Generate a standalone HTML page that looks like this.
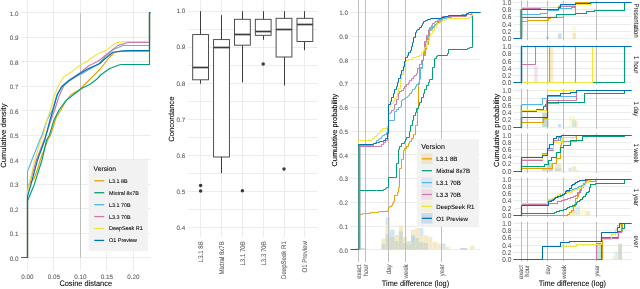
<!DOCTYPE html>
<html><head><meta charset="utf-8"><style>
html,body{margin:0;padding:0;background:#fff;}
svg{display:block;font-family:"Liberation Sans", sans-serif;will-change:transform;}
svg text{text-rendering:geometricPrecision;}
</style></head><body>
<svg width="640" height="289" viewBox="0 0 640 289">
<rect width="640" height="289" fill="#fff"/>
<line x1="21.3" y1="257.5" x2="150.6" y2="257.5" stroke="#ECECEC" stroke-width="1" />
<line x1="21.3" y1="233.5" x2="150.6" y2="233.5" stroke="#ECECEC" stroke-width="1" />
<line x1="21.3" y1="208.5" x2="150.6" y2="208.5" stroke="#ECECEC" stroke-width="1" />
<line x1="21.3" y1="184.5" x2="150.6" y2="184.5" stroke="#ECECEC" stroke-width="1" />
<line x1="21.3" y1="159.5" x2="150.6" y2="159.5" stroke="#ECECEC" stroke-width="1" />
<line x1="21.3" y1="135.5" x2="150.6" y2="135.5" stroke="#ECECEC" stroke-width="1" />
<line x1="21.3" y1="110.5" x2="150.6" y2="110.5" stroke="#ECECEC" stroke-width="1" />
<line x1="21.3" y1="86.5" x2="150.6" y2="86.5" stroke="#ECECEC" stroke-width="1" />
<line x1="21.3" y1="61.5" x2="150.6" y2="61.5" stroke="#ECECEC" stroke-width="1" />
<line x1="21.3" y1="37.5" x2="150.6" y2="37.5" stroke="#ECECEC" stroke-width="1" />
<line x1="21.3" y1="12.5" x2="150.6" y2="12.5" stroke="#ECECEC" stroke-width="1" />
<line x1="27.5" y1="0.5" x2="27.5" y2="270" stroke="#ECECEC" stroke-width="1" />
<line x1="53.5" y1="0.5" x2="53.5" y2="270" stroke="#ECECEC" stroke-width="1" />
<line x1="80.5" y1="0.5" x2="80.5" y2="270" stroke="#ECECEC" stroke-width="1" />
<line x1="106.5" y1="0.5" x2="106.5" y2="270" stroke="#ECECEC" stroke-width="1" />
<line x1="133.5" y1="0.5" x2="133.5" y2="270" stroke="#ECECEC" stroke-width="1" />
<line x1="80.5" y1="12.7" x2="80.5" y2="257.7" stroke="#BEBEBE" stroke-width="1" />
<text x="18.6" y="260.6" font-size="6.3" fill="#5A5A5A" stroke="#5A5A5A" stroke-width="0.07" text-anchor="end" >0.0</text>
<text x="18.6" y="236.1" font-size="6.3" fill="#5A5A5A" stroke="#5A5A5A" stroke-width="0.07" text-anchor="end" >0.1</text>
<text x="18.6" y="211.6" font-size="6.3" fill="#5A5A5A" stroke="#5A5A5A" stroke-width="0.07" text-anchor="end" >0.2</text>
<text x="18.6" y="187.1" font-size="6.3" fill="#5A5A5A" stroke="#5A5A5A" stroke-width="0.07" text-anchor="end" >0.3</text>
<text x="18.6" y="162.6" font-size="6.3" fill="#5A5A5A" stroke="#5A5A5A" stroke-width="0.07" text-anchor="end" >0.4</text>
<text x="18.6" y="138.1" font-size="6.3" fill="#5A5A5A" stroke="#5A5A5A" stroke-width="0.07" text-anchor="end" >0.5</text>
<text x="18.6" y="113.6" font-size="6.3" fill="#5A5A5A" stroke="#5A5A5A" stroke-width="0.07" text-anchor="end" >0.6</text>
<text x="18.6" y="89.1" font-size="6.3" fill="#5A5A5A" stroke="#5A5A5A" stroke-width="0.07" text-anchor="end" >0.7</text>
<text x="18.6" y="64.6" font-size="6.3" fill="#5A5A5A" stroke="#5A5A5A" stroke-width="0.07" text-anchor="end" >0.8</text>
<text x="18.6" y="40.1" font-size="6.3" fill="#5A5A5A" stroke="#5A5A5A" stroke-width="0.07" text-anchor="end" >0.9</text>
<text x="18.6" y="15.6" font-size="6.3" fill="#5A5A5A" stroke="#5A5A5A" stroke-width="0.07" text-anchor="end" >1.0</text>
<text x="27.4" y="278.5" font-size="6.3" fill="#5A5A5A" stroke="#5A5A5A" stroke-width="0.07" text-anchor="middle" >0.00</text>
<text x="53.9" y="278.5" font-size="6.3" fill="#5A5A5A" stroke="#5A5A5A" stroke-width="0.07" text-anchor="middle" >0.05</text>
<text x="80.4" y="278.5" font-size="6.3" fill="#5A5A5A" stroke="#5A5A5A" stroke-width="0.07" text-anchor="middle" >0.10</text>
<text x="106.9" y="278.5" font-size="6.3" fill="#5A5A5A" stroke="#5A5A5A" stroke-width="0.07" text-anchor="middle" >0.15</text>
<text x="133.4" y="278.5" font-size="6.3" fill="#5A5A5A" stroke="#5A5A5A" stroke-width="0.07" text-anchor="middle" >0.20</text>
<text x="85.7" y="286" font-size="8.0" fill="#000" stroke="#000" stroke-width="0.07" text-anchor="middle" textLength="52.6" lengthAdjust="spacingAndGlyphs">Cosine distance</text>
<text x="6.5" y="135.6" font-size="7.6" fill="#000" stroke="#000" stroke-width="0.07" text-anchor="middle" transform="rotate(-90 6.5 135.6)" >Cumulative density</text>
<polyline points="21.3,257.5 27.5,257.5 27.5,188.5 28.5,185 34.2,178.3 37.5,169.3 40.2,160 47.7,140 50.5,135.2 56,118 60.8,110 66,100.6 71.1,94.6 79.8,89.4 86.7,82.5 93.6,75.6 100.3,69 109.3,57.5 114.5,52.3 120,51.5 149.5,51.5 149.5,12.5 150.6,12.5" fill="none" stroke="#E69F00" stroke-width="1.15" stroke-linejoin="round" />
<polyline points="21.3,257.5 27.5,257.5 27.5,201 34.2,184.7 42,160 46.6,140 49.4,135.2 54,120 59,110 66,100.6 74.6,93.7 81.5,88.5 90.1,84.2 97,79 100.6,75 109.3,68.7 119.7,64.7 122,64.5 149.5,64.5 149.5,12.5 150.6,12.5" fill="none" stroke="#009E73" stroke-width="1.15" stroke-linejoin="round" />
<polyline points="21.3,257.5 27.5,257.5 27.5,171.6 31.9,160 39.8,140 42,135.2 47,120 52.5,110 57,95 61.6,87.5 68.5,81.5 78,75.5 83.2,73 91.9,67.8 98,64.5 105,57 112.8,49.7 123,45.5 149.5,45.5 149.5,12.5 150.6,12.5" fill="none" stroke="#56B4E9" stroke-width="1.15" stroke-linejoin="round" />
<polyline points="21.3,257.5 27.5,257.5 27.5,190 32,175 36.4,160 46,135.2 51,120 54.7,110 59,96.3 64.2,85.1 71.1,79 79.8,73 88.4,66 97,61.7 100.6,59.2 109.3,52.3 118,45.4 128.3,42.5 149.5,42.5 149.5,12.5 150.6,12.5" fill="none" stroke="#CC79A7" stroke-width="1.15" stroke-linejoin="round" />
<polyline points="21.3,257.5 27.5,257.5 27.5,191.9 29,185 34.8,160 40.9,140 43.3,135.2 47,120 50.4,110 54.7,94.6 59,84.2 64.2,76.4 71.1,72.1 79.8,65.2 86.7,61.7 92,57.5 98.9,53.2 105.8,50.6 116.2,42.8 126.6,41.5 149.5,41.5 149.5,12.5 150.6,12.5" fill="none" stroke="#F0E442" stroke-width="1.15" stroke-linejoin="round" />
<polyline points="21.3,257.5 27.5,257.5 27.5,196.4 30.8,185 37.5,160 44.8,140 46,135.2 50,120 53,110 57.3,94.6 61.6,86.8 68.5,80.8 78,74.7 88.4,68.6 100,63.5 102.4,61 112.8,52.3 123,50.9 131.8,50.5 149.5,50.5 149.5,12.5 150.6,12.5" fill="none" stroke="#0072B2" stroke-width="1.15" stroke-linejoin="round" />
<rect x="88.6" y="160" width="59.4" height="91" fill="#F2F2F2" />
<text x="93.6" y="170.6" font-size="6.7" fill="#000" stroke="#000" stroke-width="0.07" text-anchor="start" >Version</text>
<line x1="94.3" y1="180.8" x2="104.2" y2="180.8" stroke="#E69F00" stroke-width="1.3" />
<text x="109.1" y="182.75" font-size="5.4" fill="#000" stroke="#000" stroke-width="0.07" text-anchor="start" >L3.1 8B</text>
<line x1="94.3" y1="192.73" x2="104.2" y2="192.73" stroke="#009E73" stroke-width="1.3" />
<text x="109.1" y="194.68" font-size="5.4" fill="#000" stroke="#000" stroke-width="0.07" text-anchor="start" >Mixtral 8x7B</text>
<line x1="94.3" y1="204.66" x2="104.2" y2="204.66" stroke="#56B4E9" stroke-width="1.3" />
<text x="109.1" y="206.61" font-size="5.4" fill="#000" stroke="#000" stroke-width="0.07" text-anchor="start" >L3.1 70B</text>
<line x1="94.3" y1="216.59" x2="104.2" y2="216.59" stroke="#CC79A7" stroke-width="1.3" />
<text x="109.1" y="218.54" font-size="5.4" fill="#000" stroke="#000" stroke-width="0.07" text-anchor="start" >L3.3 70B</text>
<line x1="94.3" y1="228.52" x2="104.2" y2="228.52" stroke="#F0E442" stroke-width="1.3" />
<text x="109.1" y="230.47" font-size="5.4" fill="#000" stroke="#000" stroke-width="0.07" text-anchor="start" >DeepSeek R1</text>
<line x1="94.3" y1="240.45" x2="104.2" y2="240.45" stroke="#0072B2" stroke-width="1.3" />
<text x="109.1" y="242.4" font-size="5.4" fill="#000" stroke="#000" stroke-width="0.07" text-anchor="start" >O1 Preview</text>
<line x1="187.9" y1="227.5" x2="317.6" y2="227.5" stroke="#ECECEC" stroke-width="1" />
<line x1="187.9" y1="209.5" x2="317.6" y2="209.5" stroke="#ECECEC" stroke-width="1" />
<line x1="187.9" y1="191.5" x2="317.6" y2="191.5" stroke="#ECECEC" stroke-width="1" />
<line x1="187.9" y1="173.5" x2="317.6" y2="173.5" stroke="#ECECEC" stroke-width="1" />
<line x1="187.9" y1="155.5" x2="317.6" y2="155.5" stroke="#ECECEC" stroke-width="1" />
<line x1="187.9" y1="137.5" x2="317.6" y2="137.5" stroke="#ECECEC" stroke-width="1" />
<line x1="187.9" y1="119.5" x2="317.6" y2="119.5" stroke="#ECECEC" stroke-width="1" />
<line x1="187.9" y1="101.5" x2="317.6" y2="101.5" stroke="#ECECEC" stroke-width="1" />
<line x1="187.9" y1="83.5" x2="317.6" y2="83.5" stroke="#ECECEC" stroke-width="1" />
<line x1="187.9" y1="65.5" x2="317.6" y2="65.5" stroke="#ECECEC" stroke-width="1" />
<line x1="187.9" y1="47.5" x2="317.6" y2="47.5" stroke="#ECECEC" stroke-width="1" />
<line x1="187.9" y1="29.5" x2="317.6" y2="29.5" stroke="#ECECEC" stroke-width="1" />
<line x1="187.9" y1="11.5" x2="317.6" y2="11.5" stroke="#ECECEC" stroke-width="1" />
<line x1="200.5" y1="0.5" x2="200.5" y2="237.2" stroke="#ECECEC" stroke-width="1" />
<line x1="221.5" y1="0.5" x2="221.5" y2="237.2" stroke="#ECECEC" stroke-width="1" />
<line x1="242.5" y1="0.5" x2="242.5" y2="237.2" stroke="#ECECEC" stroke-width="1" />
<line x1="263.5" y1="0.5" x2="263.5" y2="237.2" stroke="#ECECEC" stroke-width="1" />
<line x1="284.5" y1="0.5" x2="284.5" y2="237.2" stroke="#ECECEC" stroke-width="1" />
<line x1="304.5" y1="0.5" x2="304.5" y2="237.2" stroke="#ECECEC" stroke-width="1" />
<text x="185.2" y="229.7" font-size="6.3" fill="#5A5A5A" stroke="#5A5A5A" stroke-width="0.07" text-anchor="end" >0.4</text>
<text x="185.2" y="193.65" font-size="6.3" fill="#5A5A5A" stroke="#5A5A5A" stroke-width="0.07" text-anchor="end" >0.5</text>
<text x="185.2" y="157.6" font-size="6.3" fill="#5A5A5A" stroke="#5A5A5A" stroke-width="0.07" text-anchor="end" >0.6</text>
<text x="185.2" y="121.55" font-size="6.3" fill="#5A5A5A" stroke="#5A5A5A" stroke-width="0.07" text-anchor="end" >0.7</text>
<text x="185.2" y="85.5" font-size="6.3" fill="#5A5A5A" stroke="#5A5A5A" stroke-width="0.07" text-anchor="end" >0.8</text>
<text x="185.2" y="49.45" font-size="6.3" fill="#5A5A5A" stroke="#5A5A5A" stroke-width="0.07" text-anchor="end" >0.9</text>
<text x="185.2" y="13.4" font-size="6.3" fill="#5A5A5A" stroke="#5A5A5A" stroke-width="0.07" text-anchor="end" >1.0</text>
<text x="173.6" y="119.2" font-size="7.6" fill="#000" stroke="#000" stroke-width="0.07" text-anchor="middle" transform="rotate(-90 173.6 119.2)" >Concordance</text>
<text x="0" y="0" font-size="6.8" fill="#5A5A5A" stroke="#5A5A5A" stroke-width="0.07" text-anchor="end" transform="translate(202.9 241.2) rotate(-90) scale(0.8929 1)" >L3.1 8B</text>
<text x="0" y="0" font-size="6.8" fill="#5A5A5A" stroke="#5A5A5A" stroke-width="0.07" text-anchor="end" transform="translate(223.8 241.2) rotate(-90) scale(0.8929 1)" >Mixtral 8x7B</text>
<text x="0" y="0" font-size="6.8" fill="#5A5A5A" stroke="#5A5A5A" stroke-width="0.07" text-anchor="end" transform="translate(244.7 241.2) rotate(-90) scale(0.8929 1)" >L3.1 70B</text>
<text x="0" y="0" font-size="6.8" fill="#5A5A5A" stroke="#5A5A5A" stroke-width="0.07" text-anchor="end" transform="translate(265.5 241.2) rotate(-90) scale(0.8929 1)" >L3.3 70B</text>
<text x="0" y="0" font-size="6.8" fill="#5A5A5A" stroke="#5A5A5A" stroke-width="0.07" text-anchor="end" transform="translate(286.3 241.2) rotate(-90) scale(0.8929 1)" >DeepSeek R1</text>
<text x="0" y="0" font-size="6.8" fill="#5A5A5A" stroke="#5A5A5A" stroke-width="0.07" text-anchor="end" transform="translate(307.2 241.2) rotate(-90) scale(0.8929 1)" >O1 Preview</text>
<line x1="200.5" y1="11.2" x2="200.5" y2="34.6" stroke="#3C3C3C" stroke-width="1" />
<line x1="200.5" y1="79.8" x2="200.5" y2="83.7" stroke="#3C3C3C" stroke-width="1" />
<rect x="192.7" y="34.6" width="15.8" height="45.2" fill="#fff" stroke="#3C3C3C" stroke-width="0.9"/>
<line x1="192.7" y1="67.5" x2="208.5" y2="67.5" stroke="#3C3C3C" stroke-width="1.7" />
<circle cx="200.6" cy="185.5" r="1.75" fill="#3A3A3A"/>
<circle cx="200.6" cy="191" r="1.75" fill="#3A3A3A"/>
<line x1="221.5" y1="15.2" x2="221.5" y2="39.6" stroke="#3C3C3C" stroke-width="1" />
<line x1="221.5" y1="157" x2="221.5" y2="173.2" stroke="#3C3C3C" stroke-width="1" />
<rect x="213.6" y="39.6" width="15.8" height="117.4" fill="#fff" stroke="#3C3C3C" stroke-width="0.9"/>
<line x1="213.6" y1="47.5" x2="229.4" y2="47.5" stroke="#3C3C3C" stroke-width="1.7" />
<line x1="242.5" y1="11.2" x2="242.5" y2="19.3" stroke="#3C3C3C" stroke-width="1" />
<line x1="242.5" y1="45.2" x2="242.5" y2="82.4" stroke="#3C3C3C" stroke-width="1" />
<rect x="234.5" y="19.3" width="15.8" height="25.9" fill="#fff" stroke="#3C3C3C" stroke-width="0.9"/>
<line x1="234.5" y1="34.5" x2="250.3" y2="34.5" stroke="#3C3C3C" stroke-width="1.7" />
<circle cx="242.4" cy="190.8" r="1.75" fill="#3A3A3A"/>
<line x1="263.5" y1="11.2" x2="263.5" y2="19.3" stroke="#3C3C3C" stroke-width="1" />
<line x1="263.5" y1="35.3" x2="263.5" y2="39.8" stroke="#3C3C3C" stroke-width="1" />
<rect x="255.3" y="19.3" width="15.8" height="16" fill="#fff" stroke="#3C3C3C" stroke-width="0.9"/>
<line x1="255.3" y1="31.5" x2="271.1" y2="31.5" stroke="#3C3C3C" stroke-width="1.7" />
<circle cx="263.2" cy="63.9" r="1.75" fill="#3A3A3A"/>
<line x1="284.5" y1="11.2" x2="284.5" y2="18.3" stroke="#3C3C3C" stroke-width="1" />
<line x1="284.5" y1="57" x2="284.5" y2="85.5" stroke="#3C3C3C" stroke-width="1" />
<rect x="276.1" y="18.3" width="15.8" height="38.7" fill="#fff" stroke="#3C3C3C" stroke-width="0.9"/>
<line x1="276.1" y1="29.5" x2="291.9" y2="29.5" stroke="#3C3C3C" stroke-width="1.7" />
<circle cx="284" cy="169" r="1.75" fill="#3A3A3A"/>
<line x1="304.5" y1="11.2" x2="304.5" y2="18.3" stroke="#3C3C3C" stroke-width="1" />
<line x1="304.5" y1="41.5" x2="304.5" y2="50.2" stroke="#3C3C3C" stroke-width="1" />
<rect x="297" y="18.3" width="15.8" height="23.2" fill="#fff" stroke="#3C3C3C" stroke-width="0.9"/>
<line x1="297" y1="24.5" x2="312.8" y2="24.5" stroke="#3C3C3C" stroke-width="1.7" />
<line x1="350.9" y1="249.5" x2="480.3" y2="249.5" stroke="#ECECEC" stroke-width="1" />
<line x1="350.9" y1="226.5" x2="480.3" y2="226.5" stroke="#ECECEC" stroke-width="1" />
<line x1="350.9" y1="202.5" x2="480.3" y2="202.5" stroke="#ECECEC" stroke-width="1" />
<line x1="350.9" y1="178.5" x2="480.3" y2="178.5" stroke="#ECECEC" stroke-width="1" />
<line x1="350.9" y1="154.5" x2="480.3" y2="154.5" stroke="#ECECEC" stroke-width="1" />
<line x1="350.9" y1="131.5" x2="480.3" y2="131.5" stroke="#ECECEC" stroke-width="1" />
<line x1="350.9" y1="107.5" x2="480.3" y2="107.5" stroke="#ECECEC" stroke-width="1" />
<line x1="350.9" y1="83.5" x2="480.3" y2="83.5" stroke="#ECECEC" stroke-width="1" />
<line x1="350.9" y1="59.5" x2="480.3" y2="59.5" stroke="#ECECEC" stroke-width="1" />
<line x1="350.9" y1="36.5" x2="480.3" y2="36.5" stroke="#ECECEC" stroke-width="1" />
<line x1="350.9" y1="12.5" x2="480.3" y2="12.5" stroke="#ECECEC" stroke-width="1" />
<rect x="355" y="247.8" width="3" height="1.93" fill="#F4EACB" />
<rect x="360.5" y="248.3" width="5.5" height="1.43" fill="#C6D5DC" />
<rect x="381.6" y="238.6" width="4.1" height="11.13" fill="#F4EACB" />
<rect x="381.6" y="244" width="4.1" height="5.73" fill="#D6DBC9" />
<rect x="385.7" y="217.3" width="4.1" height="32.43" fill="#D3E6F1" />
<rect x="385.7" y="224.7" width="4.1" height="25.03" fill="#F4EACB" />
<rect x="385.7" y="234.5" width="4.1" height="15.23" fill="#D6DBC9" />
<rect x="389.8" y="229.6" width="4.9" height="20.13" fill="#D3E6F1" />
<rect x="389.8" y="237" width="4.9" height="12.73" fill="#D6DBC9" />
<rect x="394.7" y="235" width="4.1" height="14.73" fill="#F4EACB" />
<rect x="394.7" y="241" width="4.1" height="8.73" fill="#D6DBC9" />
<rect x="398.8" y="225.5" width="4.1" height="24.23" fill="#F4EACB" />
<rect x="398.8" y="231.3" width="4.1" height="18.43" fill="#D6DBC9" />
<rect x="402.9" y="237" width="4.1" height="12.73" fill="#F4EACB" />
<rect x="402.9" y="243" width="4.1" height="6.73" fill="#D6DBC9" />
<rect x="407" y="241.1" width="4.1" height="8.63" fill="#D3E6F1" />
<rect x="407" y="244.5" width="4.1" height="5.23" fill="#D6DBC9" />
<rect x="411.1" y="229.6" width="4.1" height="20.13" fill="#F4EACB" />
<rect x="411.1" y="235.4" width="4.1" height="14.33" fill="#C6D5DC" />
<rect x="411.1" y="242" width="4.1" height="7.73" fill="#D6DBC9" />
<rect x="415.2" y="228" width="4.1" height="21.73" fill="#F4EACB" />
<rect x="415.2" y="238" width="4.1" height="11.73" fill="#D6DBC9" />
<rect x="419.3" y="228" width="4.1" height="21.73" fill="#D3E6F1" />
<rect x="419.3" y="236" width="4.1" height="13.73" fill="#F4EACB" />
<rect x="419.3" y="242" width="4.1" height="7.73" fill="#D6DBC9" />
<rect x="423.4" y="235.4" width="4.9" height="14.33" fill="#F4EACB" />
<rect x="423.4" y="243" width="4.9" height="6.73" fill="#D6DBC9" />
<rect x="428.3" y="237" width="4.1" height="12.73" fill="#F4EACB" />
<rect x="432.4" y="241.9" width="4.9" height="7.83" fill="#F4EACB" />
<rect x="437.3" y="243.5" width="4.1" height="6.23" fill="#F4EACB" />
<rect x="441.4" y="243.5" width="4.1" height="6.23" fill="#D3E6F1" />
<rect x="445.5" y="246.8" width="4.1" height="2.93" fill="#F4EACB" />
<rect x="460.3" y="248" width="6.6" height="1.73" fill="#C6D5DC" />
<rect x="470.2" y="245.7" width="4.1" height="4.03" fill="#F4EACB" />
<line x1="358.5" y1="0" x2="358.5" y2="262" stroke="#BEBEBE" stroke-width="1" />
<text x="0" y="0" font-size="6.6" fill="#5A5A5A" stroke="#5A5A5A" stroke-width="0.07" text-anchor="end" transform="translate(361.1 264.5) rotate(-90) scale(0.9091 1)" >exact</text>
<line x1="365.5" y1="0" x2="365.5" y2="262" stroke="#BEBEBE" stroke-width="1" />
<text x="0" y="0" font-size="6.6" fill="#5A5A5A" stroke="#5A5A5A" stroke-width="0.07" text-anchor="end" transform="translate(367.9 264.5) rotate(-90) scale(0.9091 1)" >hour</text>
<line x1="388.5" y1="0" x2="388.5" y2="262" stroke="#BEBEBE" stroke-width="1" />
<text x="0" y="0" font-size="6.6" fill="#5A5A5A" stroke="#5A5A5A" stroke-width="0.07" text-anchor="end" transform="translate(390.8 264.5) rotate(-90) scale(0.9091 1)" >day</text>
<line x1="405.5" y1="0" x2="405.5" y2="262" stroke="#BEBEBE" stroke-width="1" />
<text x="0" y="0" font-size="6.6" fill="#5A5A5A" stroke="#5A5A5A" stroke-width="0.07" text-anchor="end" transform="translate(407.7 264.5) rotate(-90) scale(0.9091 1)" >week</text>
<line x1="441.5" y1="0" x2="441.5" y2="262" stroke="#BEBEBE" stroke-width="1" />
<text x="0" y="0" font-size="6.6" fill="#5A5A5A" stroke="#5A5A5A" stroke-width="0.07" text-anchor="end" transform="translate(443.7 264.5) rotate(-90) scale(0.9091 1)" >year</text>
<text x="348" y="252.53" font-size="6.3" fill="#5A5A5A" stroke="#5A5A5A" stroke-width="0.07" text-anchor="end" >0.0</text>
<text x="348" y="228.81" font-size="6.3" fill="#5A5A5A" stroke="#5A5A5A" stroke-width="0.07" text-anchor="end" >0.1</text>
<text x="348" y="205.08" font-size="6.3" fill="#5A5A5A" stroke="#5A5A5A" stroke-width="0.07" text-anchor="end" >0.2</text>
<text x="348" y="181.36" font-size="6.3" fill="#5A5A5A" stroke="#5A5A5A" stroke-width="0.07" text-anchor="end" >0.3</text>
<text x="348" y="157.64" font-size="6.3" fill="#5A5A5A" stroke="#5A5A5A" stroke-width="0.07" text-anchor="end" >0.4</text>
<text x="348" y="133.92" font-size="6.3" fill="#5A5A5A" stroke="#5A5A5A" stroke-width="0.07" text-anchor="end" >0.5</text>
<text x="348" y="110.19" font-size="6.3" fill="#5A5A5A" stroke="#5A5A5A" stroke-width="0.07" text-anchor="end" >0.6</text>
<text x="348" y="86.47" font-size="6.3" fill="#5A5A5A" stroke="#5A5A5A" stroke-width="0.07" text-anchor="end" >0.7</text>
<text x="348" y="62.75" font-size="6.3" fill="#5A5A5A" stroke="#5A5A5A" stroke-width="0.07" text-anchor="end" >0.8</text>
<text x="348" y="39.02" font-size="6.3" fill="#5A5A5A" stroke="#5A5A5A" stroke-width="0.07" text-anchor="end" >0.9</text>
<text x="348" y="15.3" font-size="6.3" fill="#5A5A5A" stroke="#5A5A5A" stroke-width="0.07" text-anchor="end" >1.0</text>
<text x="415.5" y="285.8" font-size="8.0" fill="#000" stroke="#000" stroke-width="0.07" text-anchor="middle" textLength="67.4" lengthAdjust="spacingAndGlyphs">Time difference (log)</text>
<text x="336.6" y="130.2" font-size="7.4" fill="#000" stroke="#000" stroke-width="0.07" text-anchor="middle" transform="rotate(-90 336.6 130.2)" >Cumulative probability</text>
<polyline points="350.5,249.5 358.5,249.5 358.5,249.5 358.5,249.5 358.5,214.5 360.5,214.5 360.5,214.5 362.5,214.5 362.5,213.5 363.5,213.5 363.5,213.5 365.5,213.5 365.5,213.5 366.5,213.5 366.5,213.5 368.5,213.5 368.5,213.5 370.5,213.5 370.5,212.5 371.5,212.5 371.5,212.5 373.5,212.5 373.5,212.5 375.5,212.5 375.5,212.5 376.5,212.5 376.5,212.5 378.5,212.5 378.5,211.5 379.5,211.5 379.5,211.5 381.5,211.5 381.5,211.5 387.5,211.5 387.5,210.5 388.5,210.5 388.5,207.5 389.5,207.5 389.5,206.5 391.5,206.5 391.5,205.5 392.5,205.5 392.5,203.5 393.5,203.5 393.5,201.5 394.5,201.5 394.5,195.5 397.5,195.5 397.5,192.5 398.5,192.5 398.5,187.5 399.5,187.5 399.5,168.5 401.5,168.5 401.5,159.5 403.5,159.5 403.5,150.5 404.5,150.5 404.5,148.5 406.5,148.5 406.5,146.5 408.5,146.5 408.5,143.5 409.5,143.5 409.5,141.5 411.5,141.5 411.5,138.5 413.5,138.5 413.5,134.5 415.5,134.5 415.5,125.5 417.5,125.5 417.5,108.5 418.5,108.5 418.5,84.5 419.5,84.5 419.5,67.5 422.5,67.5 422.5,60.5 423.5,60.5 423.5,54.5 424.5,54.5 424.5,49.5 426.5,49.5 426.5,44.5 428.5,44.5 428.5,37.5 429.5,37.5 429.5,30.5 431.5,30.5 431.5,29.5 432.5,29.5 432.5,27.5 434.5,27.5 434.5,25.5 435.5,25.5 435.5,24.5 437.5,24.5 437.5,22.5 439.5,22.5 439.5,21.5 441.5,21.5 441.5,20.5 442.5,20.5 442.5,18.5 444.5,18.5 444.5,17.5 446.5,17.5 446.5,17.5 447.5,17.5 447.5,17.5 449.5,17.5 449.5,16.5 451.5,16.5 451.5,16.5 452.5,16.5 452.5,16.5 454.5,16.5 454.5,16.5 456.5,16.5 456.5,15.5 457.5,15.5 457.5,15.5 459.5,15.5 459.5,15.5 461.5,15.5 461.5,14.5 462.5,14.5 462.5,14.5 464.5,14.5 464.5,14.5 466.5,14.5 466.5,14.5 472.5,14.5 472.5,12.5 480.5,12.5 480.5,12.5" fill="none" stroke="#E69F00" stroke-width="1.0" stroke-linejoin="round" />
<polyline points="350.5,249.5 358.5,249.5 358.5,249.5 358.5,249.5 358.5,190.5 376.5,190.5 376.5,190.5 383.5,190.5 383.5,189.5 385.5,189.5 385.5,188.5 386.5,188.5 386.5,187.5 388.5,187.5 388.5,177.5 394.5,177.5 394.5,177.5 396.5,177.5 396.5,163.5 398.5,163.5 398.5,149.5 399.5,149.5 399.5,146.5 401.5,146.5 401.5,143.5 404.5,143.5 404.5,141.5 405.5,141.5 405.5,139.5 406.5,139.5 406.5,137.5 409.5,137.5 409.5,131.5 410.5,131.5 410.5,125.5 412.5,125.5 412.5,120.5 413.5,120.5 413.5,115.5 415.5,115.5 415.5,112.5 416.5,112.5 416.5,108.5 418.5,108.5 418.5,105.5 419.5,105.5 419.5,102.5 421.5,102.5 421.5,97.5 423.5,97.5 423.5,93.5 424.5,93.5 424.5,89.5 426.5,89.5 426.5,85.5 428.5,85.5 428.5,82.5 429.5,82.5 429.5,79.5 432.5,79.5 432.5,67.5 434.5,67.5 434.5,58.5 436.5,58.5 436.5,56.5 437.5,56.5 437.5,55.5 447.5,55.5 447.5,53.5 448.5,53.5 448.5,49.5 467.5,49.5 467.5,48.5 469.5,48.5 469.5,47.5 472.5,47.5 472.5,46.5 472.5,46.5 472.5,12.5 480.5,12.5 480.5,12.5" fill="none" stroke="#009E73" stroke-width="1.0" stroke-linejoin="round" />
<polyline points="350.5,249.5 358.5,249.5 358.5,249.5 358.5,249.5 358.5,145.5 372.5,145.5 372.5,145.5 373.5,145.5 373.5,143.5 375.5,143.5 375.5,142.5 376.5,142.5 376.5,140.5 378.5,140.5 378.5,139.5 379.5,139.5 379.5,138.5 381.5,138.5 381.5,136.5 382.5,136.5 382.5,135.5 384.5,135.5 384.5,134.5 386.5,134.5 386.5,132.5 388.5,132.5 388.5,130.5 388.5,130.5 388.5,120.5 394.5,120.5 394.5,120.5 394.5,120.5 394.5,111.5 396.5,111.5 396.5,109.5 398.5,109.5 398.5,107.5 400.5,107.5 400.5,106.5 401.5,106.5 401.5,100.5 402.5,100.5 402.5,99.5 404.5,99.5 404.5,98.5 405.5,98.5 405.5,97.5 407.5,97.5 407.5,96.5 408.5,96.5 408.5,95.5 409.5,95.5 409.5,93.5 411.5,93.5 411.5,91.5 412.5,91.5 412.5,89.5 414.5,89.5 414.5,88.5 415.5,88.5 415.5,86.5 416.5,86.5 416.5,84.5 418.5,84.5 418.5,82.5 419.5,82.5 419.5,79.5 420.5,79.5 420.5,68.5 422.5,68.5 422.5,60.5 423.5,60.5 423.5,55.5 425.5,55.5 425.5,42.5 427.5,42.5 427.5,36.5 429.5,36.5 429.5,30.5 430.5,30.5 430.5,28.5 432.5,28.5 432.5,26.5 434.5,26.5 434.5,24.5 436.5,24.5 436.5,23.5 437.5,23.5 437.5,21.5 439.5,21.5 439.5,20.5 440.5,20.5 440.5,19.5 442.5,19.5 442.5,18.5 443.5,18.5 443.5,18.5 445.5,18.5 445.5,18.5 446.5,18.5 446.5,17.5 448.5,17.5 448.5,17.5 449.5,17.5 449.5,17.5 451.5,17.5 451.5,16.5 453.5,16.5 453.5,16.5 454.5,16.5 454.5,16.5 456.5,16.5 456.5,16.5 457.5,16.5 457.5,15.5 459.5,15.5 459.5,15.5 461.5,15.5 461.5,15.5 462.5,15.5 462.5,14.5 464.5,14.5 464.5,14.5 465.5,14.5 465.5,14.5 467.5,14.5 467.5,14.5 472.5,14.5 472.5,12.5 480.5,12.5 480.5,12.5" fill="none" stroke="#56B4E9" stroke-width="1.0" stroke-linejoin="round" />
<polyline points="350.5,249.5 358.5,249.5 358.5,249.5 358.5,249.5 358.5,146.5 381.5,146.5 381.5,144.5 383.5,144.5 383.5,142.5 385.5,142.5 385.5,140.5 387.5,140.5 387.5,126.5 388.5,126.5 388.5,113.5 390.5,113.5 390.5,112.5 391.5,112.5 391.5,110.5 393.5,110.5 393.5,109.5 394.5,109.5 394.5,104.5 396.5,104.5 396.5,99.5 398.5,99.5 398.5,93.5 399.5,93.5 399.5,91.5 401.5,91.5 401.5,90.5 403.5,90.5 403.5,88.5 404.5,88.5 404.5,86.5 406.5,86.5 406.5,84.5 408.5,84.5 408.5,82.5 409.5,82.5 409.5,80.5 411.5,80.5 411.5,78.5 413.5,78.5 413.5,76.5 414.5,76.5 414.5,75.5 416.5,75.5 416.5,73.5 417.5,73.5 417.5,68.5 419.5,68.5 419.5,64.5 421.5,64.5 421.5,60.5 423.5,60.5 423.5,50.5 424.5,50.5 424.5,41.5 426.5,41.5 426.5,35.5 428.5,35.5 428.5,29.5 429.5,29.5 429.5,27.5 431.5,27.5 431.5,25.5 432.5,25.5 432.5,23.5 434.5,23.5 434.5,22.5 435.5,22.5 435.5,21.5 437.5,21.5 437.5,20.5 438.5,20.5 438.5,19.5 440.5,19.5 440.5,18.5 441.5,18.5 441.5,17.5 442.5,17.5 442.5,16.5 447.5,16.5 447.5,16.5 466.5,16.5 466.5,14.5 471.5,14.5 471.5,13.5 472.5,13.5 472.5,12.5 480.5,12.5 480.5,12.5" fill="none" stroke="#CC79A7" stroke-width="1.0" stroke-linejoin="round" />
<polyline points="350.5,249.5 358.5,249.5 358.5,249.5 358.5,249.5 358.5,140.5 371.5,140.5 371.5,139.5 372.5,139.5 372.5,138.5 374.5,138.5 374.5,136.5 376.5,136.5 376.5,135.5 377.5,135.5 377.5,133.5 379.5,133.5 379.5,132.5 380.5,132.5 380.5,130.5 382.5,130.5 382.5,128.5 386.5,128.5 386.5,127.5 388.5,127.5 388.5,106.5 390.5,106.5 390.5,104.5 391.5,104.5 391.5,103.5 393.5,103.5 393.5,101.5 394.5,101.5 394.5,98.5 396.5,98.5 396.5,96.5 397.5,96.5 397.5,92.5 398.5,92.5 398.5,88.5 400.5,88.5 400.5,79.5 401.5,79.5 401.5,74.5 403.5,74.5 403.5,68.5 404.5,68.5 404.5,61.5 405.5,61.5 405.5,60.5 407.5,60.5 407.5,60.5 408.5,60.5 408.5,59.5 412.5,59.5 412.5,57.5 416.5,57.5 416.5,56.5 419.5,56.5 419.5,55.5 421.5,55.5 421.5,52.5 423.5,52.5 423.5,50.5 424.5,50.5 424.5,47.5 426.5,47.5 426.5,44.5 427.5,44.5 427.5,40.5 429.5,40.5 429.5,36.5 430.5,36.5 430.5,33.5 432.5,33.5 432.5,30.5 434.5,30.5 434.5,27.5 436.5,27.5 436.5,24.5 437.5,24.5 437.5,23.5 439.5,23.5 439.5,22.5 441.5,22.5 441.5,21.5 442.5,21.5 442.5,20.5 444.5,20.5 444.5,20.5 445.5,20.5 445.5,19.5 447.5,19.5 447.5,18.5 459.5,18.5 459.5,18.5 468.5,18.5 468.5,17.5 471.5,17.5 471.5,15.5 472.5,15.5 472.5,12.5 480.5,12.5 480.5,12.5" fill="none" stroke="#F0E442" stroke-width="1.0" stroke-linejoin="round" />
<polyline points="350.5,249.5 358.5,249.5 358.5,249.5 358.5,249.5 358.5,144.5 373.5,144.5 373.5,143.5 374.5,143.5 374.5,143.5 376.5,143.5 376.5,142.5 377.5,142.5 377.5,142.5 379.5,142.5 379.5,141.5 380.5,141.5 380.5,141.5 382.5,141.5 382.5,141.5 383.5,141.5 383.5,140.5 385.5,140.5 385.5,138.5 387.5,138.5 387.5,133.5 388.5,133.5 388.5,104.5 390.5,104.5 390.5,101.5 391.5,101.5 391.5,97.5 393.5,97.5 393.5,93.5 394.5,93.5 394.5,89.5 396.5,89.5 396.5,86.5 397.5,86.5 397.5,82.5 398.5,82.5 398.5,78.5 400.5,78.5 400.5,74.5 401.5,74.5 401.5,70.5 403.5,70.5 403.5,66.5 404.5,66.5 404.5,61.5 405.5,61.5 405.5,57.5 407.5,57.5 407.5,55.5 408.5,55.5 408.5,52.5 410.5,52.5 410.5,50.5 411.5,50.5 411.5,46.5 412.5,46.5 412.5,42.5 413.5,42.5 413.5,37.5 415.5,37.5 415.5,32.5 416.5,32.5 416.5,30.5 417.5,30.5 417.5,29.5 419.5,29.5 419.5,27.5 421.5,27.5 421.5,25.5 422.5,25.5 422.5,23.5 423.5,23.5 423.5,21.5 425.5,21.5 425.5,20.5 427.5,20.5 427.5,19.5 430.5,19.5 430.5,18.5 441.5,18.5 441.5,17.5 444.5,17.5 444.5,16.5 448.5,16.5 448.5,15.5 466.5,15.5 466.5,13.5 468.5,13.5 468.5,12.5 480.5,12.5 480.5,12.5" fill="none" stroke="#0072B2" stroke-width="1.0" stroke-linejoin="round" />
<rect x="358.1" y="146.53" width="2.4" height="103.2" fill="#5E9488" fill-opacity="0.9"/>
<rect x="416.8" y="139" width="62" height="87.8" fill="#F2F2F2" />
<text x="421.2" y="148.6" font-size="7.1" fill="#000" stroke="#000" stroke-width="0.07" text-anchor="start" >Version</text>
<rect x="421.3" y="153.5" width="11.1" height="10.6" fill="#E69F00" fill-opacity="0.16"/>
<line x1="421.8" y1="158.8" x2="432" y2="158.8" stroke="#E69F00" stroke-width="1.25" />
<text x="436.3" y="161" font-size="6.15" fill="#000" stroke="#000" stroke-width="0.07" text-anchor="start" >L3.1 8B</text>
<line x1="421.8" y1="170.7" x2="432" y2="170.7" stroke="#009E73" stroke-width="1.25" />
<text x="436.3" y="172.9" font-size="6.15" fill="#000" stroke="#000" stroke-width="0.07" text-anchor="start" >Mixtral 8x7B</text>
<rect x="421.3" y="177.3" width="11.1" height="10.6" fill="#56B4E9" fill-opacity="0.16"/>
<line x1="421.8" y1="182.6" x2="432" y2="182.6" stroke="#56B4E9" stroke-width="1.25" />
<text x="436.3" y="184.8" font-size="6.15" fill="#000" stroke="#000" stroke-width="0.07" text-anchor="start" >L3.1 70B</text>
<rect x="421.3" y="189.2" width="11.1" height="10.6" fill="#CC79A7" fill-opacity="0.16"/>
<line x1="421.8" y1="194.5" x2="432" y2="194.5" stroke="#CC79A7" stroke-width="1.25" />
<text x="436.3" y="196.7" font-size="6.15" fill="#000" stroke="#000" stroke-width="0.07" text-anchor="start" >L3.3 70B</text>
<rect x="421.3" y="201.1" width="11.1" height="10.6" fill="#F0E442" fill-opacity="0.16"/>
<line x1="421.8" y1="206.4" x2="432" y2="206.4" stroke="#F0E442" stroke-width="1.25" />
<text x="436.3" y="208.6" font-size="6.15" fill="#000" stroke="#000" stroke-width="0.07" text-anchor="start" >DeepSeek R1</text>
<rect x="421.3" y="213" width="11.1" height="10.6" fill="#0072B2" fill-opacity="0.16"/>
<line x1="421.8" y1="218.3" x2="432" y2="218.3" stroke="#0072B2" stroke-width="1.25" />
<text x="436.3" y="220.5" font-size="6.15" fill="#000" stroke="#000" stroke-width="0.07" text-anchor="start" >O1 Preview</text>
<line x1="513.5" y1="38.5" x2="631.2" y2="38.5" stroke="#ECECEC" stroke-width="1" />
<line x1="513.5" y1="31.5" x2="631.2" y2="31.5" stroke="#ECECEC" stroke-width="1" />
<line x1="513.5" y1="24.5" x2="631.2" y2="24.5" stroke="#ECECEC" stroke-width="1" />
<line x1="513.5" y1="16.5" x2="631.2" y2="16.5" stroke="#ECECEC" stroke-width="1" />
<line x1="513.5" y1="9.5" x2="631.2" y2="9.5" stroke="#ECECEC" stroke-width="1" />
<line x1="513.5" y1="2.5" x2="631.2" y2="2.5" stroke="#ECECEC" stroke-width="1" />
<line x1="521.5" y1="0.6" x2="521.5" y2="40.4" stroke="#BEBEBE" stroke-width="1" />
<line x1="527.5" y1="0.6" x2="527.5" y2="40.4" stroke="#BEBEBE" stroke-width="1" />
<line x1="547.5" y1="0.6" x2="547.5" y2="40.4" stroke="#BEBEBE" stroke-width="1" />
<line x1="563.5" y1="0.6" x2="563.5" y2="40.4" stroke="#BEBEBE" stroke-width="1" />
<line x1="596.5" y1="0.6" x2="596.5" y2="40.4" stroke="#BEBEBE" stroke-width="1" />
<text x="0" y="0" font-size="7.02" fill="#5A5A5A" stroke="#5A5A5A" stroke-width="0.07" text-anchor="end" transform="translate(511.3 41.1) scale(0.9259 1)" >0.0</text>
<text x="0" y="0" font-size="7.02" fill="#5A5A5A" stroke="#5A5A5A" stroke-width="0.07" text-anchor="end" transform="translate(511.3 33.86) scale(0.9259 1)" >0.2</text>
<text x="0" y="0" font-size="7.02" fill="#5A5A5A" stroke="#5A5A5A" stroke-width="0.07" text-anchor="end" transform="translate(511.3 26.62) scale(0.9259 1)" >0.4</text>
<text x="0" y="0" font-size="7.02" fill="#5A5A5A" stroke="#5A5A5A" stroke-width="0.07" text-anchor="end" transform="translate(511.3 19.38) scale(0.9259 1)" >0.6</text>
<text x="0" y="0" font-size="7.02" fill="#5A5A5A" stroke="#5A5A5A" stroke-width="0.07" text-anchor="end" transform="translate(511.3 12.14) scale(0.9259 1)" >0.8</text>
<text x="0" y="0" font-size="7.02" fill="#5A5A5A" stroke="#5A5A5A" stroke-width="0.07" text-anchor="end" transform="translate(511.3 4.9) scale(0.9259 1)" >1.0</text>
<rect x="572.7" y="26.2" width="3.1" height="12.4" fill="#F0E442" fill-opacity="0.22"/>
<rect x="572.7" y="33" width="3.1" height="5.6" fill="#E69F00" fill-opacity="0.22"/>
<rect x="558" y="33.5" width="3.5" height="5.1" fill="#0072B2" fill-opacity="0.22"/>
<rect x="546" y="36.5" width="3" height="2.1" fill="#0072B2" fill-opacity="0.22"/>
<polyline points="513.5,38.5 521.5,38.5 521.5,21.5 527.5,21.5 527.5,20.5 548.5,20.5 548.5,18.5 550.5,18.5 550.5,17.5 563.5,17.5 563.5,14.5 575.5,14.5 575.5,13.5 575.5,13.5 575.5,2.5 631.5,2.5 631.5,2.5" fill="none" stroke="#E69F00" stroke-width="1.1" stroke-linejoin="round" />
<polyline points="513.5,38.5 521.5,38.5 521.5,17.5 556.5,17.5 556.5,14.5 575.5,14.5 575.5,13.5 586.5,13.5 586.5,11.5 594.5,11.5 594.5,10.5 624.5,10.5 624.5,2.5 631.5,2.5 631.5,2.5" fill="none" stroke="#009E73" stroke-width="1.1" stroke-linejoin="round" />
<polyline points="513.5,38.5 521.5,38.5 521.5,14.5 540.5,14.5 540.5,13.5 547.5,13.5 547.5,10.5 558.5,10.5 558.5,8.5 571.5,8.5 571.5,7.5 575.5,7.5 575.5,3.5 590.5,3.5 590.5,2.5 631.5,2.5 631.5,2.5" fill="none" stroke="#56B4E9" stroke-width="1.1" stroke-linejoin="round" />
<polyline points="513.5,38.5 521.5,38.5 521.5,8.5 540.5,8.5 540.5,7.5 558.5,7.5 558.5,6.5 575.5,6.5 575.5,3.5 590.5,3.5 590.5,2.5 631.5,2.5 631.5,2.5" fill="none" stroke="#CC79A7" stroke-width="1.1" stroke-linejoin="round" />
<polyline points="513.5,38.5 521.5,38.5 521.5,7.5 558.5,7.5 558.5,5.5 575.5,5.5 575.5,4.5 591.5,4.5 591.5,2.5 631.5,2.5 631.5,2.5" fill="none" stroke="#F0E442" stroke-width="1.1" stroke-linejoin="round" />
<polyline points="513.5,38.5 521.5,38.5 521.5,9.5 547.5,9.5 547.5,9.5 558.5,9.5 558.5,7.5 560.5,7.5 560.5,4.5 575.5,4.5 575.5,3.5 590.5,3.5 590.5,2.5 631.5,2.5 631.5,2.5" fill="none" stroke="#0072B2" stroke-width="1.1" stroke-linejoin="round" />
<rect x="519.9" y="9.64" width="2.4" height="28.96" fill="#5E9488" fill-opacity="0.85"/>
<text x="0" y="0" font-size="6.83" fill="#1A1A1A" stroke="#1A1A1A" stroke-width="0.07" text-anchor="middle" transform="translate(634.2 20.5) rotate(90) scale(0.8929 1)" >Presentation</text>
<line x1="513.5" y1="82.5" x2="631.2" y2="82.5" stroke="#ECECEC" stroke-width="1" />
<line x1="513.5" y1="75.5" x2="631.2" y2="75.5" stroke="#ECECEC" stroke-width="1" />
<line x1="513.5" y1="68.5" x2="631.2" y2="68.5" stroke="#ECECEC" stroke-width="1" />
<line x1="513.5" y1="61.5" x2="631.2" y2="61.5" stroke="#ECECEC" stroke-width="1" />
<line x1="513.5" y1="53.5" x2="631.2" y2="53.5" stroke="#ECECEC" stroke-width="1" />
<line x1="513.5" y1="46.5" x2="631.2" y2="46.5" stroke="#ECECEC" stroke-width="1" />
<line x1="521.5" y1="44.8" x2="521.5" y2="84.6" stroke="#BEBEBE" stroke-width="1" />
<line x1="527.5" y1="44.8" x2="527.5" y2="84.6" stroke="#BEBEBE" stroke-width="1" />
<line x1="547.5" y1="44.8" x2="547.5" y2="84.6" stroke="#BEBEBE" stroke-width="1" />
<line x1="563.5" y1="44.8" x2="563.5" y2="84.6" stroke="#BEBEBE" stroke-width="1" />
<line x1="596.5" y1="44.8" x2="596.5" y2="84.6" stroke="#BEBEBE" stroke-width="1" />
<text x="0" y="0" font-size="7.02" fill="#5A5A5A" stroke="#5A5A5A" stroke-width="0.07" text-anchor="end" transform="translate(511.3 85.3) scale(0.9259 1)" >0.0</text>
<text x="0" y="0" font-size="7.02" fill="#5A5A5A" stroke="#5A5A5A" stroke-width="0.07" text-anchor="end" transform="translate(511.3 78.06) scale(0.9259 1)" >0.2</text>
<text x="0" y="0" font-size="7.02" fill="#5A5A5A" stroke="#5A5A5A" stroke-width="0.07" text-anchor="end" transform="translate(511.3 70.82) scale(0.9259 1)" >0.4</text>
<text x="0" y="0" font-size="7.02" fill="#5A5A5A" stroke="#5A5A5A" stroke-width="0.07" text-anchor="end" transform="translate(511.3 63.58) scale(0.9259 1)" >0.6</text>
<text x="0" y="0" font-size="7.02" fill="#5A5A5A" stroke="#5A5A5A" stroke-width="0.07" text-anchor="end" transform="translate(511.3 56.34) scale(0.9259 1)" >0.8</text>
<text x="0" y="0" font-size="7.02" fill="#5A5A5A" stroke="#5A5A5A" stroke-width="0.07" text-anchor="end" transform="translate(511.3 49.1) scale(0.9259 1)" >1.0</text>
<rect x="534.2" y="66" width="3.5" height="16.8" fill="#CC79A7" fill-opacity="0.22"/>
<rect x="548.9" y="46.6" width="4.3" height="36.2" fill="#E69F00" fill-opacity="0.22"/>
<rect x="591.6" y="46.6" width="4.3" height="36.2" fill="#F0E442" fill-opacity="0.22"/>
<rect x="519.8" y="46.6" width="3.2" height="36.2" fill="#0072B2" fill-opacity="0.22"/>
<polyline points="513.5,82.5 549.5,82.5 549.5,46.5 631.5,46.5 631.5,46.5" fill="none" stroke="#E69F00" stroke-width="1.1" stroke-linejoin="round" />
<polyline points="513.5,82.5 624.5,82.5 624.5,46.5 631.5,46.5 631.5,46.5" fill="none" stroke="#009E73" stroke-width="1.1" stroke-linejoin="round" />
<polyline points="513.5,82.5 575.5,82.5 575.5,46.5 631.5,46.5 631.5,46.5" fill="none" stroke="#56B4E9" stroke-width="1.1" stroke-linejoin="round" />
<polyline points="513.5,82.5 521.5,82.5 521.5,64.5 535.5,64.5 535.5,46.5 631.5,46.5 631.5,46.5" fill="none" stroke="#CC79A7" stroke-width="1.1" stroke-linejoin="round" />
<polyline points="513.5,82.5 592.5,82.5 592.5,46.5 631.5,46.5 631.5,46.5" fill="none" stroke="#F0E442" stroke-width="1.1" stroke-linejoin="round" />
<polyline points="513.5,82.5 521.5,82.5 521.5,46.5 631.5,46.5 631.5,46.5" fill="none" stroke="#0072B2" stroke-width="1.1" stroke-linejoin="round" />
<text x="0" y="0" font-size="6.83" fill="#1A1A1A" stroke="#1A1A1A" stroke-width="0.07" text-anchor="middle" transform="translate(634.2 64.7) rotate(90) scale(0.8929 1)" >1 hour</text>
<line x1="513.5" y1="127.5" x2="631.2" y2="127.5" stroke="#ECECEC" stroke-width="1" />
<line x1="513.5" y1="119.5" x2="631.2" y2="119.5" stroke="#ECECEC" stroke-width="1" />
<line x1="513.5" y1="112.5" x2="631.2" y2="112.5" stroke="#ECECEC" stroke-width="1" />
<line x1="513.5" y1="105.5" x2="631.2" y2="105.5" stroke="#ECECEC" stroke-width="1" />
<line x1="513.5" y1="98.5" x2="631.2" y2="98.5" stroke="#ECECEC" stroke-width="1" />
<line x1="513.5" y1="90.5" x2="631.2" y2="90.5" stroke="#ECECEC" stroke-width="1" />
<line x1="521.5" y1="89" x2="521.5" y2="128.8" stroke="#BEBEBE" stroke-width="1" />
<line x1="527.5" y1="89" x2="527.5" y2="128.8" stroke="#BEBEBE" stroke-width="1" />
<line x1="547.5" y1="89" x2="547.5" y2="128.8" stroke="#BEBEBE" stroke-width="1" />
<line x1="563.5" y1="89" x2="563.5" y2="128.8" stroke="#BEBEBE" stroke-width="1" />
<line x1="596.5" y1="89" x2="596.5" y2="128.8" stroke="#BEBEBE" stroke-width="1" />
<text x="0" y="0" font-size="7.02" fill="#5A5A5A" stroke="#5A5A5A" stroke-width="0.07" text-anchor="end" transform="translate(511.3 129.5) scale(0.9259 1)" >0.0</text>
<text x="0" y="0" font-size="7.02" fill="#5A5A5A" stroke="#5A5A5A" stroke-width="0.07" text-anchor="end" transform="translate(511.3 122.26) scale(0.9259 1)" >0.2</text>
<text x="0" y="0" font-size="7.02" fill="#5A5A5A" stroke="#5A5A5A" stroke-width="0.07" text-anchor="end" transform="translate(511.3 115.02) scale(0.9259 1)" >0.4</text>
<text x="0" y="0" font-size="7.02" fill="#5A5A5A" stroke="#5A5A5A" stroke-width="0.07" text-anchor="end" transform="translate(511.3 107.78) scale(0.9259 1)" >0.6</text>
<text x="0" y="0" font-size="7.02" fill="#5A5A5A" stroke="#5A5A5A" stroke-width="0.07" text-anchor="end" transform="translate(511.3 100.54) scale(0.9259 1)" >0.8</text>
<text x="0" y="0" font-size="7.02" fill="#5A5A5A" stroke="#5A5A5A" stroke-width="0.07" text-anchor="end" transform="translate(511.3 93.3) scale(0.9259 1)" >1.0</text>
<rect x="542" y="109" width="6.6" height="18" fill="#F0E442" fill-opacity="0.22"/>
<rect x="542" y="113" width="6.6" height="14" fill="#0072B2" fill-opacity="0.22"/>
<rect x="558" y="124" width="3" height="3" fill="#0072B2" fill-opacity="0.22"/>
<rect x="569" y="116" width="6" height="11" fill="#F0E442" fill-opacity="0.22"/>
<rect x="572" y="120" width="4" height="7" fill="#56B4E9" fill-opacity="0.22"/>
<rect x="575" y="121" width="3" height="6" fill="#E69F00" fill-opacity="0.22"/>
<polyline points="513.5,127.5 521.5,127.5 521.5,122.5 543.5,122.5 543.5,118.5 547.5,118.5 547.5,103.5 558.5,103.5 558.5,100.5 576.5,100.5 576.5,90.5 631.5,90.5 631.5,90.5" fill="none" stroke="#E69F00" stroke-width="1.1" stroke-linejoin="round" />
<polyline points="513.5,127.5 521.5,127.5 521.5,111.5 536.5,111.5 536.5,109.5 543.5,109.5 543.5,106.5 545.5,106.5 545.5,104.5 547.5,104.5 547.5,102.5 584.5,102.5 584.5,93.5 624.5,93.5 624.5,90.5 631.5,90.5 631.5,90.5" fill="none" stroke="#009E73" stroke-width="1.1" stroke-linejoin="round" />
<polyline points="513.5,127.5 521.5,127.5 521.5,104.5 542.5,104.5 542.5,98.5 547.5,98.5 547.5,96.5 576.5,96.5 576.5,90.5 631.5,90.5 631.5,90.5" fill="none" stroke="#56B4E9" stroke-width="1.1" stroke-linejoin="round" />
<polyline points="513.5,127.5 521.5,127.5 521.5,110.5 546.5,110.5 546.5,100.5 576.5,100.5 576.5,90.5 631.5,90.5 631.5,90.5" fill="none" stroke="#CC79A7" stroke-width="1.1" stroke-linejoin="round" />
<polyline points="513.5,127.5 521.5,127.5 521.5,110.5 547.5,110.5 547.5,90.5 631.5,90.5 631.5,90.5" fill="none" stroke="#F0E442" stroke-width="1.1" stroke-linejoin="round" />
<polyline points="513.5,127.5 521.5,127.5 521.5,117.5 544.5,117.5 544.5,117.5 547.5,117.5 547.5,95.5 560.5,95.5 560.5,93.5 570.5,93.5 570.5,92.5 576.5,92.5 576.5,90.5 631.5,90.5 631.5,90.5" fill="none" stroke="#0072B2" stroke-width="1.1" stroke-linejoin="round" />
<rect x="520.5" y="105.28" width="1.6" height="21.72" fill="#6A9A90" fill-opacity="0.6"/>
<text x="0" y="0" font-size="6.83" fill="#1A1A1A" stroke="#1A1A1A" stroke-width="0.07" text-anchor="middle" transform="translate(634.2 108.9) rotate(90) scale(0.8929 1)" >1 day</text>
<line x1="513.5" y1="171.5" x2="631.2" y2="171.5" stroke="#ECECEC" stroke-width="1" />
<line x1="513.5" y1="163.5" x2="631.2" y2="163.5" stroke="#ECECEC" stroke-width="1" />
<line x1="513.5" y1="156.5" x2="631.2" y2="156.5" stroke="#ECECEC" stroke-width="1" />
<line x1="513.5" y1="149.5" x2="631.2" y2="149.5" stroke="#ECECEC" stroke-width="1" />
<line x1="513.5" y1="142.5" x2="631.2" y2="142.5" stroke="#ECECEC" stroke-width="1" />
<line x1="513.5" y1="135.5" x2="631.2" y2="135.5" stroke="#ECECEC" stroke-width="1" />
<line x1="521.5" y1="133.2" x2="521.5" y2="173" stroke="#BEBEBE" stroke-width="1" />
<line x1="527.5" y1="133.2" x2="527.5" y2="173" stroke="#BEBEBE" stroke-width="1" />
<line x1="547.5" y1="133.2" x2="547.5" y2="173" stroke="#BEBEBE" stroke-width="1" />
<line x1="563.5" y1="133.2" x2="563.5" y2="173" stroke="#BEBEBE" stroke-width="1" />
<line x1="596.5" y1="133.2" x2="596.5" y2="173" stroke="#BEBEBE" stroke-width="1" />
<text x="0" y="0" font-size="7.02" fill="#5A5A5A" stroke="#5A5A5A" stroke-width="0.07" text-anchor="end" transform="translate(511.3 173.7) scale(0.9259 1)" >0.0</text>
<text x="0" y="0" font-size="7.02" fill="#5A5A5A" stroke="#5A5A5A" stroke-width="0.07" text-anchor="end" transform="translate(511.3 166.46) scale(0.9259 1)" >0.2</text>
<text x="0" y="0" font-size="7.02" fill="#5A5A5A" stroke="#5A5A5A" stroke-width="0.07" text-anchor="end" transform="translate(511.3 159.22) scale(0.9259 1)" >0.4</text>
<text x="0" y="0" font-size="7.02" fill="#5A5A5A" stroke="#5A5A5A" stroke-width="0.07" text-anchor="end" transform="translate(511.3 151.98) scale(0.9259 1)" >0.6</text>
<text x="0" y="0" font-size="7.02" fill="#5A5A5A" stroke="#5A5A5A" stroke-width="0.07" text-anchor="end" transform="translate(511.3 144.74) scale(0.9259 1)" >0.8</text>
<text x="0" y="0" font-size="7.02" fill="#5A5A5A" stroke="#5A5A5A" stroke-width="0.07" text-anchor="end" transform="translate(511.3 137.5) scale(0.9259 1)" >1.0</text>
<rect x="542.1" y="168.8" width="5.1" height="2.4" fill="#D6DBC9" />
<rect x="547.2" y="162.7" width="5.6" height="8.5" fill="#C6D5DC" />
<rect x="554.8" y="162.7" width="6.6" height="8.5" fill="#F4EACB" />
<rect x="554.8" y="168.3" width="6.6" height="2.9" fill="#D6DBC9" />
<rect x="568.5" y="167.8" width="3" height="3.4" fill="#D3E6F1" />
<rect x="572" y="166.2" width="4.1" height="5" fill="#F4EACB" />
<rect x="576.1" y="169.8" width="2.9" height="1.4" fill="#F4EACB" />
<polyline points="513.5,171.5 521.5,171.5 521.5,168.5 552.5,168.5 552.5,163.5 556.5,163.5 556.5,158.5 560.5,158.5 560.5,145.5 561.5,145.5 561.5,141.5 576.5,141.5 576.5,135.5 631.5,135.5 631.5,135.5" fill="none" stroke="#E69F00" stroke-width="1.1" stroke-linejoin="round" />
<polyline points="513.5,171.5 521.5,171.5 521.5,166.5 544.5,166.5 544.5,164.5 548.5,164.5 548.5,160.5 551.5,160.5 551.5,157.5 556.5,157.5 556.5,152.5 560.5,152.5 560.5,147.5 563.5,147.5 563.5,145.5 570.5,145.5 570.5,140.5 582.5,140.5 582.5,136.5 624.5,136.5 624.5,135.5 631.5,135.5 631.5,135.5" fill="none" stroke="#009E73" stroke-width="1.1" stroke-linejoin="round" />
<polyline points="513.5,171.5 521.5,171.5 521.5,157.5 542.5,157.5 542.5,153.5 547.5,153.5 547.5,148.5 553.5,148.5 553.5,140.5 560.5,140.5 560.5,137.5 575.5,137.5 575.5,135.5 631.5,135.5 631.5,135.5" fill="none" stroke="#56B4E9" stroke-width="1.1" stroke-linejoin="round" />
<polyline points="513.5,171.5 521.5,171.5 521.5,160.5 542.5,160.5 542.5,155.5 547.5,155.5 547.5,150.5 553.5,150.5 553.5,140.5 558.5,140.5 558.5,137.5 575.5,137.5 575.5,135.5 631.5,135.5 631.5,135.5" fill="none" stroke="#CC79A7" stroke-width="1.1" stroke-linejoin="round" />
<polyline points="513.5,171.5 521.5,171.5 521.5,159.5 542.5,159.5 542.5,154.5 547.5,154.5 547.5,149.5 553.5,149.5 553.5,142.5 562.5,142.5 562.5,137.5 575.5,137.5 575.5,135.5 631.5,135.5 631.5,135.5" fill="none" stroke="#F0E442" stroke-width="1.1" stroke-linejoin="round" />
<polyline points="513.5,171.5 521.5,171.5 521.5,157.5 542.5,157.5 542.5,155.5 547.5,155.5 547.5,148.5 549.5,148.5 549.5,144.5 553.5,144.5 553.5,138.5 556.5,138.5 556.5,136.5 561.5,136.5 561.5,135.5 575.5,135.5 575.5,135.5 631.5,135.5 631.5,135.5" fill="none" stroke="#0072B2" stroke-width="1.1" stroke-linejoin="round" />
<text x="0" y="0" font-size="6.83" fill="#1A1A1A" stroke="#1A1A1A" stroke-width="0.07" text-anchor="middle" transform="translate(634.2 153.1) rotate(90) scale(0.8929 1)" >1 week</text>
<line x1="513.5" y1="215.5" x2="631.2" y2="215.5" stroke="#ECECEC" stroke-width="1" />
<line x1="513.5" y1="208.5" x2="631.2" y2="208.5" stroke="#ECECEC" stroke-width="1" />
<line x1="513.5" y1="200.5" x2="631.2" y2="200.5" stroke="#ECECEC" stroke-width="1" />
<line x1="513.5" y1="193.5" x2="631.2" y2="193.5" stroke="#ECECEC" stroke-width="1" />
<line x1="513.5" y1="186.5" x2="631.2" y2="186.5" stroke="#ECECEC" stroke-width="1" />
<line x1="513.5" y1="179.5" x2="631.2" y2="179.5" stroke="#ECECEC" stroke-width="1" />
<line x1="521.5" y1="177.4" x2="521.5" y2="217.2" stroke="#BEBEBE" stroke-width="1" />
<line x1="527.5" y1="177.4" x2="527.5" y2="217.2" stroke="#BEBEBE" stroke-width="1" />
<line x1="547.5" y1="177.4" x2="547.5" y2="217.2" stroke="#BEBEBE" stroke-width="1" />
<line x1="563.5" y1="177.4" x2="563.5" y2="217.2" stroke="#BEBEBE" stroke-width="1" />
<line x1="596.5" y1="177.4" x2="596.5" y2="217.2" stroke="#BEBEBE" stroke-width="1" />
<text x="0" y="0" font-size="7.02" fill="#5A5A5A" stroke="#5A5A5A" stroke-width="0.07" text-anchor="end" transform="translate(511.3 217.9) scale(0.9259 1)" >0.0</text>
<text x="0" y="0" font-size="7.02" fill="#5A5A5A" stroke="#5A5A5A" stroke-width="0.07" text-anchor="end" transform="translate(511.3 210.66) scale(0.9259 1)" >0.2</text>
<text x="0" y="0" font-size="7.02" fill="#5A5A5A" stroke="#5A5A5A" stroke-width="0.07" text-anchor="end" transform="translate(511.3 203.42) scale(0.9259 1)" >0.4</text>
<text x="0" y="0" font-size="7.02" fill="#5A5A5A" stroke="#5A5A5A" stroke-width="0.07" text-anchor="end" transform="translate(511.3 196.18) scale(0.9259 1)" >0.6</text>
<text x="0" y="0" font-size="7.02" fill="#5A5A5A" stroke="#5A5A5A" stroke-width="0.07" text-anchor="end" transform="translate(511.3 188.94) scale(0.9259 1)" >0.8</text>
<text x="0" y="0" font-size="7.02" fill="#5A5A5A" stroke="#5A5A5A" stroke-width="0.07" text-anchor="end" transform="translate(511.3 181.7) scale(0.9259 1)" >1.0</text>
<rect x="568" y="210" width="4" height="5.4" fill="#F0E442" fill-opacity="0.22"/>
<rect x="572" y="209" width="4.3" height="6.4" fill="#E69F00" fill-opacity="0.22"/>
<rect x="576.3" y="206.2" width="3.7" height="9.2" fill="#56B4E9" fill-opacity="0.22"/>
<rect x="580" y="209.9" width="6" height="5.5" fill="#F0E442" fill-opacity="0.22"/>
<rect x="586" y="211" width="4" height="4.4" fill="#E69F00" fill-opacity="0.22"/>
<polyline points="513.5,215.5 567.5,215.5 567.5,215.5 567.5,215.5 567.5,214.5 569.5,214.5 569.5,212.5 571.5,212.5 571.5,210.5 573.5,210.5 573.5,206.5 575.5,206.5 575.5,198.5 577.5,198.5 577.5,196.5 578.5,196.5 578.5,193.5 579.5,193.5 579.5,190.5 581.5,190.5 581.5,187.5 583.5,187.5 583.5,184.5 585.5,184.5 585.5,180.5 588.5,180.5 588.5,179.5 631.5,179.5 631.5,179.5" fill="none" stroke="#E69F00" stroke-width="1.1" stroke-linejoin="round" />
<polyline points="513.5,215.5 521.5,215.5 521.5,215.5 521.5,215.5 521.5,213.5 540.5,213.5 540.5,213.5 554.5,213.5 554.5,212.5 556.5,212.5 556.5,211.5 557.5,211.5 557.5,211.5 559.5,211.5 559.5,210.5 561.5,210.5 561.5,210.5 563.5,210.5 563.5,209.5 564.5,209.5 564.5,209.5 566.5,209.5 566.5,208.5 567.5,208.5 567.5,207.5 569.5,207.5 569.5,206.5 571.5,206.5 571.5,206.5 572.5,206.5 572.5,205.5 574.5,205.5 574.5,204.5 576.5,204.5 576.5,202.5 577.5,202.5 577.5,201.5 579.5,201.5 579.5,200.5 580.5,200.5 580.5,199.5 582.5,199.5 582.5,197.5 583.5,197.5 583.5,196.5 585.5,196.5 585.5,194.5 586.5,194.5 586.5,192.5 588.5,192.5 588.5,191.5 589.5,191.5 589.5,187.5 590.5,187.5 590.5,184.5 595.5,184.5 595.5,183.5 624.5,183.5 624.5,183.5 624.5,183.5 624.5,179.5 631.5,179.5 631.5,179.5" fill="none" stroke="#009E73" stroke-width="1.1" stroke-linejoin="round" />
<polyline points="513.5,215.5 521.5,215.5 521.5,215.5 521.5,215.5 521.5,203.5 547.5,203.5 547.5,203.5 548.5,203.5 548.5,201.5 549.5,201.5 549.5,200.5 551.5,200.5 551.5,199.5 552.5,199.5 552.5,199.5 554.5,199.5 554.5,198.5 555.5,198.5 555.5,197.5 557.5,197.5 557.5,197.5 558.5,197.5 558.5,196.5 560.5,196.5 560.5,196.5 561.5,196.5 561.5,195.5 563.5,195.5 563.5,194.5 564.5,194.5 564.5,193.5 566.5,193.5 566.5,192.5 567.5,192.5 567.5,191.5 569.5,191.5 569.5,190.5 571.5,190.5 571.5,190.5 572.5,190.5 572.5,189.5 574.5,189.5 574.5,188.5 575.5,188.5 575.5,188.5 577.5,188.5 577.5,187.5 578.5,187.5 578.5,186.5 580.5,186.5 580.5,186.5 581.5,186.5 581.5,185.5 583.5,185.5 583.5,184.5 584.5,184.5 584.5,183.5 586.5,183.5 586.5,182.5 588.5,182.5 588.5,181.5 595.5,181.5 595.5,179.5 631.5,179.5 631.5,179.5" fill="none" stroke="#56B4E9" stroke-width="1.1" stroke-linejoin="round" />
<polyline points="513.5,215.5 521.5,215.5 521.5,215.5 521.5,215.5 521.5,204.5 547.5,204.5 547.5,204.5 548.5,204.5 548.5,203.5 557.5,203.5 557.5,201.5 558.5,201.5 558.5,201.5 560.5,201.5 560.5,201.5 561.5,201.5 561.5,200.5 563.5,200.5 563.5,200.5 564.5,200.5 564.5,199.5 566.5,199.5 566.5,199.5 567.5,199.5 567.5,198.5 569.5,198.5 569.5,198.5 570.5,198.5 570.5,197.5 572.5,197.5 572.5,197.5 573.5,197.5 573.5,196.5 575.5,196.5 575.5,195.5 577.5,195.5 577.5,192.5 580.5,192.5 580.5,187.5 581.5,187.5 581.5,185.5 583.5,185.5 583.5,183.5 585.5,183.5 585.5,182.5 586.5,182.5 586.5,180.5 589.5,180.5 589.5,179.5 631.5,179.5 631.5,179.5" fill="none" stroke="#CC79A7" stroke-width="1.1" stroke-linejoin="round" />
<polyline points="513.5,215.5 521.5,215.5 521.5,215.5 521.5,215.5 521.5,203.5 547.5,203.5 547.5,203.5 548.5,203.5 548.5,199.5 549.5,199.5 549.5,199.5 551.5,199.5 551.5,198.5 552.5,198.5 552.5,198.5 554.5,198.5 554.5,197.5 555.5,197.5 555.5,196.5 557.5,196.5 557.5,195.5 558.5,195.5 558.5,194.5 560.5,194.5 560.5,193.5 565.5,193.5 565.5,192.5 571.5,192.5 571.5,191.5 572.5,191.5 572.5,190.5 574.5,190.5 574.5,189.5 576.5,189.5 576.5,189.5 577.5,189.5 577.5,188.5 579.5,188.5 579.5,188.5 580.5,188.5 580.5,187.5 582.5,187.5 582.5,186.5 583.5,186.5 583.5,185.5 585.5,185.5 585.5,183.5 586.5,183.5 586.5,182.5 588.5,182.5 588.5,180.5 590.5,180.5 590.5,179.5 631.5,179.5 631.5,179.5" fill="none" stroke="#F0E442" stroke-width="1.1" stroke-linejoin="round" />
<polyline points="513.5,215.5 521.5,215.5 521.5,215.5 521.5,215.5 521.5,205.5 547.5,205.5 547.5,205.5 548.5,205.5 548.5,201.5 551.5,201.5 551.5,200.5 553.5,200.5 553.5,199.5 554.5,199.5 554.5,198.5 555.5,198.5 555.5,197.5 557.5,197.5 557.5,196.5 558.5,196.5 558.5,196.5 560.5,196.5 560.5,195.5 562.5,195.5 562.5,194.5 564.5,194.5 564.5,193.5 565.5,193.5 565.5,191.5 566.5,191.5 566.5,190.5 569.5,190.5 569.5,188.5 571.5,188.5 571.5,185.5 572.5,185.5 572.5,184.5 574.5,184.5 574.5,183.5 575.5,183.5 575.5,182.5 577.5,182.5 577.5,181.5 579.5,181.5 579.5,180.5 585.5,180.5 585.5,179.5 631.5,179.5 631.5,179.5" fill="none" stroke="#0072B2" stroke-width="1.1" stroke-linejoin="round" />
<text x="0" y="0" font-size="6.83" fill="#1A1A1A" stroke="#1A1A1A" stroke-width="0.07" text-anchor="middle" transform="translate(634.2 197.3) rotate(90) scale(0.8929 1)" >1 year</text>
<line x1="513.5" y1="259.5" x2="631.2" y2="259.5" stroke="#ECECEC" stroke-width="1" />
<line x1="513.5" y1="252.5" x2="631.2" y2="252.5" stroke="#ECECEC" stroke-width="1" />
<line x1="513.5" y1="245.5" x2="631.2" y2="245.5" stroke="#ECECEC" stroke-width="1" />
<line x1="513.5" y1="237.5" x2="631.2" y2="237.5" stroke="#ECECEC" stroke-width="1" />
<line x1="513.5" y1="230.5" x2="631.2" y2="230.5" stroke="#ECECEC" stroke-width="1" />
<line x1="513.5" y1="223.5" x2="631.2" y2="223.5" stroke="#ECECEC" stroke-width="1" />
<line x1="521.5" y1="221.6" x2="521.5" y2="261.4" stroke="#BEBEBE" stroke-width="1" />
<line x1="527.5" y1="221.6" x2="527.5" y2="261.4" stroke="#BEBEBE" stroke-width="1" />
<line x1="547.5" y1="221.6" x2="547.5" y2="261.4" stroke="#BEBEBE" stroke-width="1" />
<line x1="563.5" y1="221.6" x2="563.5" y2="261.4" stroke="#BEBEBE" stroke-width="1" />
<line x1="596.5" y1="221.6" x2="596.5" y2="261.4" stroke="#BEBEBE" stroke-width="1" />
<text x="0" y="0" font-size="7.02" fill="#5A5A5A" stroke="#5A5A5A" stroke-width="0.07" text-anchor="end" transform="translate(511.3 262.1) scale(0.9259 1)" >0.0</text>
<text x="0" y="0" font-size="7.02" fill="#5A5A5A" stroke="#5A5A5A" stroke-width="0.07" text-anchor="end" transform="translate(511.3 254.86) scale(0.9259 1)" >0.2</text>
<text x="0" y="0" font-size="7.02" fill="#5A5A5A" stroke="#5A5A5A" stroke-width="0.07" text-anchor="end" transform="translate(511.3 247.62) scale(0.9259 1)" >0.4</text>
<text x="0" y="0" font-size="7.02" fill="#5A5A5A" stroke="#5A5A5A" stroke-width="0.07" text-anchor="end" transform="translate(511.3 240.38) scale(0.9259 1)" >0.6</text>
<text x="0" y="0" font-size="7.02" fill="#5A5A5A" stroke="#5A5A5A" stroke-width="0.07" text-anchor="end" transform="translate(511.3 233.14) scale(0.9259 1)" >0.8</text>
<text x="0" y="0" font-size="7.02" fill="#5A5A5A" stroke="#5A5A5A" stroke-width="0.07" text-anchor="end" transform="translate(511.3 225.9) scale(0.9259 1)" >1.0</text>
<rect x="596.8" y="243" width="4.6" height="16.6" fill="#009E73" fill-opacity="0.22"/>
<rect x="611.3" y="256" width="3.1" height="3.6" fill="#F0E442" fill-opacity="0.22"/>
<rect x="614.4" y="252.2" width="3.8" height="7.4" fill="#56B4E9" fill-opacity="0.22"/>
<rect x="618.2" y="243.9" width="3.8" height="15.7" fill="#D6DBC9" />
<polyline points="513.5,259.5 602.5,259.5 602.5,237.5 618.5,237.5 618.5,231.5 622.5,231.5 622.5,223.5 631.5,223.5 631.5,223.5" fill="none" stroke="#E69F00" stroke-width="1.1" stroke-linejoin="round" />
<polyline points="513.5,259.5 601.5,259.5 601.5,237.5 618.5,237.5 618.5,231.5 621.5,231.5 621.5,228.5 624.5,228.5 624.5,223.5 631.5,223.5 631.5,223.5" fill="none" stroke="#009E73" stroke-width="1.1" stroke-linejoin="round" />
<polyline points="513.5,259.5 596.5,259.5 596.5,243.5 601.5,243.5 601.5,238.5 618.5,238.5 618.5,232.5 621.5,232.5 621.5,223.5 631.5,223.5 631.5,223.5" fill="none" stroke="#56B4E9" stroke-width="1.1" stroke-linejoin="round" />
<polyline points="513.5,259.5 596.5,259.5 596.5,243.5 601.5,243.5 601.5,238.5 618.5,238.5 618.5,232.5 621.5,232.5 621.5,223.5 631.5,223.5 631.5,223.5" fill="none" stroke="#CC79A7" stroke-width="1.1" stroke-linejoin="round" />
<polyline points="513.5,259.5 542.5,259.5 542.5,246.5 576.5,246.5 576.5,244.5 601.5,244.5 601.5,239.5 611.5,239.5 611.5,234.5 615.5,234.5 615.5,229.5 617.5,229.5 617.5,225.5 620.5,225.5 620.5,223.5 631.5,223.5 631.5,223.5" fill="none" stroke="#F0E442" stroke-width="1.1" stroke-linejoin="round" />
<polyline points="513.5,259.5 542.5,259.5 542.5,246.5 560.5,246.5 560.5,242.5 569.5,242.5 569.5,241.5 601.5,241.5 601.5,232.5 617.5,232.5 617.5,227.5 619.5,227.5 619.5,223.5 631.5,223.5 631.5,223.5" fill="none" stroke="#0072B2" stroke-width="1.1" stroke-linejoin="round" />
<text x="0" y="0" font-size="6.83" fill="#1A1A1A" stroke="#1A1A1A" stroke-width="0.07" text-anchor="middle" transform="translate(634.2 241.5) rotate(90) scale(0.8929 1)" >ever</text>
<text x="0" y="0" font-size="6.38" fill="#5A5A5A" stroke="#5A5A5A" stroke-width="0.07" text-anchor="end" transform="translate(523.3 265.2) rotate(-90) scale(0.9091 1)" >exact</text>
<text x="0" y="0" font-size="6.38" fill="#5A5A5A" stroke="#5A5A5A" stroke-width="0.07" text-anchor="end" transform="translate(529.1 265.2) rotate(-90) scale(0.9091 1)" >hour</text>
<text x="0" y="0" font-size="6.38" fill="#5A5A5A" stroke="#5A5A5A" stroke-width="0.07" text-anchor="end" transform="translate(549.5 265.2) rotate(-90) scale(0.9091 1)" >day</text>
<text x="0" y="0" font-size="6.38" fill="#5A5A5A" stroke="#5A5A5A" stroke-width="0.07" text-anchor="end" transform="translate(565.7 265.2) rotate(-90) scale(0.9091 1)" >week</text>
<text x="0" y="0" font-size="6.38" fill="#5A5A5A" stroke="#5A5A5A" stroke-width="0.07" text-anchor="end" transform="translate(598.6 265.2) rotate(-90) scale(0.9091 1)" >year</text>
<text x="572.4" y="285.8" font-size="8.0" fill="#000" stroke="#000" stroke-width="0.07" text-anchor="middle" textLength="67.4" lengthAdjust="spacingAndGlyphs">Time difference (log)</text>
<text x="499" y="130.4" font-size="7.45" fill="#000" stroke="#000" stroke-width="0.07" text-anchor="middle" transform="rotate(-90 499 130.4)" >Cumulative probability</text>
</svg></body></html>
